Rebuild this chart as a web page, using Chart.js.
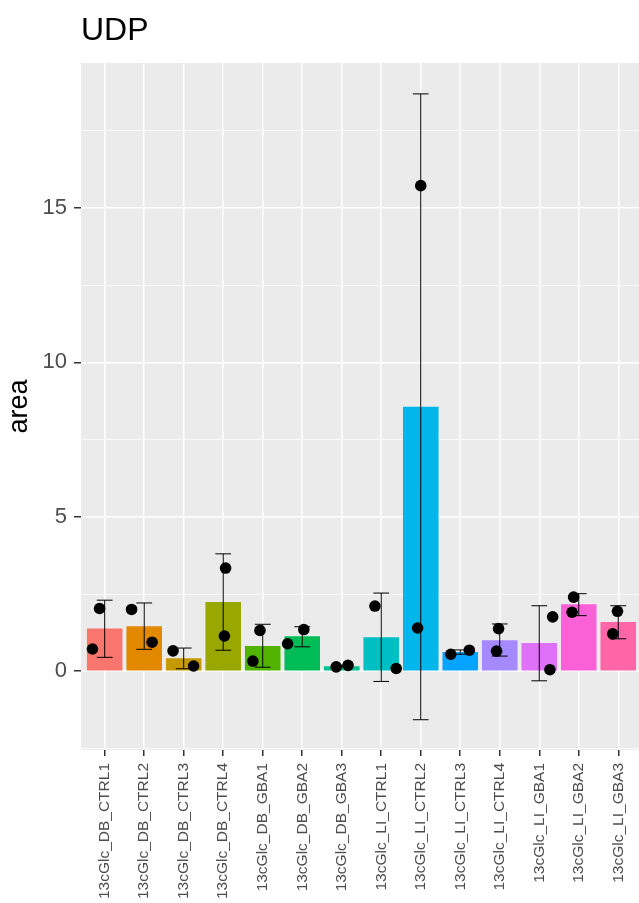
<!DOCTYPE html>
<html lang="en">
<head>
    <meta charset="UTF-8">
    <title>UDP</title>
    <script src="https://cdn.jsdelivr.net/npm/chart.js"></script>
    <style>
        html, body { margin: 0; padding: 0; background: #fff; overflow: hidden; }
    </style>
</head>
<body>
    <canvas id="udpChart" width="639" height="903"></canvas>

    <script>
        // sample names and values
        const categories = ['13cGlc_DB_CTRL1', '13cGlc_DB_CTRL2', '13cGlc_DB_CTRL3', '13cGlc_DB_CTRL4',
            '13cGlc_DB_GBA1', '13cGlc_DB_GBA2', '13cGlc_DB_GBA3', '13cGlc_LI_CTRL1', '13cGlc_LI_CTRL2',
            '13cGlc_LI_CTRL3', '13cGlc_LI_CTRL4', '13cGlc_LI_GBA1', '13cGlc_LI_GBA2', '13cGlc_LI_GBA3'];
        const barMeans = [1.38, 1.46, 0.42, 2.24, 0.82, 1.13, 0.16, 1.10, 8.56, 0.62, 1.00, 0.91, 2.17, 1.59];
        const errLow = [0.45, 0.71, 0.08, 0.68, 0.13, 0.79, 0.125, -0.33, -1.57, 0.55, 0.49, -0.31, 1.80, 1.05];
        const errHigh = [2.30, 2.21, 0.75, 3.80, 1.52, 1.44, 0.195, 2.53, 18.69, 0.69, 1.53, 2.12, 2.51, 2.12];
        // the two replicates per sample, with their horizontal jitter
        const rep1 = [2.03, 2.00, 0.66, 3.34, 1.32, 0.89, 0.14, 2.11, 1.40, 0.55, 1.38, 1.76, 2.40, 1.94];
        const rep1Jitter = [-0.13, -0.32, -0.27, 0.06, -0.07, -0.37, -0.14, -0.16, -0.08, -0.24, -0.03, 0.34, -0.13, -0.02];
        const rep2 = [0.72, 0.94, 0.17, 1.14, 0.33, 1.35, 0.19, 0.09, 15.72, 0.68, 0.65, 0.05, 1.91, 1.21];
        const rep2Jitter = [-0.31, 0.20, 0.25, 0.03, -0.25, 0.04, 0.16, 0.38, 0.00, 0.23, -0.08, 0.27, -0.17, -0.14];
        const yTicks = [-2.5, 0, 2.5, 5, 7.5, 10, 12.5, 15, 17.5];

        // ggplot default hue palette for 14 levels
        const colors = ['#F8766D', '#E38900', '#C49A00', '#99A800', '#53B400', '#00BC56', '#00C094',
            '#00BFC4', '#00B6EB', '#06A4FF', '#A58AFF', '#DF70F8', '#FB61D7', '#FF66A8'];

        const font = 'Liberation Sans, Arial, Helvetica, sans-serif';
        const isMajor = v => Math.abs(v % 5) < 1e-9;

        const points = [];
        categories.forEach((_, i) => {
            points.push({ x: i + rep1Jitter[i], y: rep1[i] });
            points.push({ x: i + rep2Jitter[i], y: rep2[i] });
        });

        // grey panel behind everything
        const panelBg = {
            id: 'panelBg',
            beforeDraw(chart) {
                const { ctx, chartArea: a } = chart;
                ctx.save();
                ctx.fillStyle = '#EBEBEB';
                ctx.fillRect(a.left, a.top, a.right - a.left, a.bottom - a.top);
                ctx.restore();
            }
        };

        // mean +/- sd whiskers, drawn right after the bars so the dots sit on top
        const errorBars = {
            id: 'errorBars',
            afterDatasetDraw(chart, args) {
                if (args.index !== 0) return;
                const { ctx, scales: { x, y } } = chart;
                ctx.save();
                ctx.strokeStyle = '#000';
                ctx.lineWidth = 1;
                categories.forEach((_, i) => {
                    const cx = x.getPixelForValue(i);
                    const x0 = x.getPixelForValue(i - 0.2);
                    const x1 = x.getPixelForValue(i + 0.2);
                    const yl = y.getPixelForValue(errLow[i]);
                    const yh = y.getPixelForValue(errHigh[i]);
                    ctx.beginPath();
                    ctx.moveTo(cx, yl); ctx.lineTo(cx, yh);
                    ctx.moveTo(x0, yl); ctx.lineTo(x1, yl);
                    ctx.moveTo(x0, yh); ctx.lineTo(x1, yh);
                    ctx.stroke();
                });
                ctx.restore();
            }
        };

        const ctx = document.getElementById('udpChart').getContext('2d');
        new Chart(ctx, {
            data: {
                datasets: [{
                    type: 'bar',
                    data: barMeans.map((v, i) => ({ x: i, y: v })),
                    backgroundColor: colors,
                    borderWidth: 0,
                    barPercentage: 0.9,
                    categoryPercentage: 1,
                    order: 1
                }, {
                    type: 'scatter',
                    data: points,
                    pointRadius: 5.8,
                    pointBackgroundColor: '#000',
                    pointBorderWidth: 0,
                    order: 0
                }]
            },
            options: {
                responsive: false,
                animation: false,
                devicePixelRatio: 1,
                layout: { padding: 0, autoPadding: false },
                plugins: {
                    legend: { display: false },
                    tooltip: { enabled: false },
                    title: {
                        display: true,
                        text: 'UDP',
                        align: 'start',
                        fullSize: false,
                        color: '#000',
                        font: { family: font, size: 32, weight: 'normal' },
                        padding: { top: 12, bottom: 12.6 }
                    }
                },
                scales: {
                    x: {
                        type: 'linear',
                        offset: false,
                        min: -0.6,
                        max: 13.525,
                        afterBuildTicks: s => { s.ticks = categories.map((_, i) => ({ value: i })); },
                        afterFit: s => { s.height = 153; s.paddingRight = 0; s.paddingLeft = 0; },
                        border: { display: false },
                        grid: { offset: false, color: '#fff', lineWidth: 1.5, tickColor: '#333', tickLength: 6, tickWidth: 1.5 },
                        ticks: {
                            autoSkip: false,
                            minRotation: 90,
                            maxRotation: 90,
                            padding: 7,
                            color: '#4D4D4D',
                            font: { family: font, size: 15.5 },
                            callback: v => categories[v]
                        }
                    },
                    y: {
                        min: -2.55,
                        max: 19.69,
                        afterBuildTicks: s => { s.ticks = yTicks.map(v => ({ value: v })); },
                        afterFit: s => { s.width = 81; },
                        border: { display: false },
                        grid: {
                            color: '#fff',
                            lineWidth: c => isMajor(c.tick.value) ? 1.5 : 0.75,
                            tickColor: c => isMajor(c.tick.value) ? '#333' : 'rgba(0,0,0,0)',
                            tickWidth: 1.5,
                            tickLength: 7
                        },
                        ticks: {
                            padding: 7,
                            color: '#4D4D4D',
                            font: { family: font, size: 22 },
                            callback: v => isMajor(v) ? String(v) : ''
                        },
                        title: {
                            display: true,
                            text: 'area',
                            color: '#000',
                            font: { family: font, size: 27 },
                            padding: { top: 3, bottom: 0 }
                        }
                    }
                }
            },
            plugins: [panelBg, errorBars]
        });
    </script>
</body>
</html>
